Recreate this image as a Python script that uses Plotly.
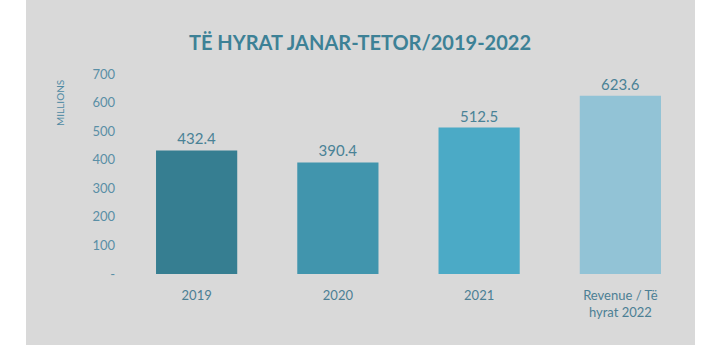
import plotly.graph_objects as go

categories = ["2019", "2020", "2021", "Revenue / Të<br>hyrat 2022"]
values = [432.4, 390.4, 512.5, 623.6]
labels = ["432.4", "390.4", "512.5", "623.6"]
bar_colors = ["#367E91", "#4195AD", "#4BAAC6", "#92C3D6"]
y_tickvals = [0, 100, 200, 300, 400, 500, 600, 700]
y_ticktext = ["-", "100", "200", "300", "400", "500", "600", "700"]

FONT = "Lato"
W, H = 720, 345
ml, mr, mt, mb = 126, 29, 74, 71
pw = W - ml - mr
ph = H - mt - mb

fig = go.Figure(go.Bar(
    x=categories, y=values,
    marker=dict(color=bar_colors, line=dict(width=0)),
    text=labels, textposition="outside", cliponaxis=False,
    textfont=dict(family=FONT, size=15, color="#4A8296"),
    hoverinfo="skip",
))

fig.update_layout(
    width=W, height=H,
    margin=dict(l=ml, r=mr, t=mt, b=mb),
    paper_bgcolor="white",
    plot_bgcolor="rgba(0,0,0,0)",
    bargap=0.425,
    showlegend=False,
    title=dict(text="<b>TË HYRAT JANAR-TETOR/2019-2022</b>", x=0.5, xanchor="center",
               y=1 - 43 / H, yanchor="middle", xref="container", yref="container",
               font=dict(family=FONT, size=20, color="#3D8196")),
    xaxis=dict(showgrid=False, showline=False, zeroline=False, ticks="",
               ticklabelstandoff=12,
               tickfont=dict(family=FONT, size=13, color="#4C7F94")),
    yaxis=dict(range=[0, 700], tickvals=y_tickvals, ticktext=y_ticktext,
               showgrid=False, showline=False, zeroline=False, ticks="",
               ticklabelstandoff=10,
               tickfont=dict(family=FONT, size=13, color="#5A8FA6")),
    shapes=[dict(type="rect", xref="paper", yref="paper", layer="below",
                 x0=(26 - ml) / pw, x1=(695 - ml) / pw,
                 y0=-(H - mt - ph) / ph - 0.01, y1=(mt + ph) / ph + 0.01,
                 fillcolor="#D9D9D9", line=dict(width=0))],
    annotations=[dict(text="MILLIONS", textangle=-90, xref="paper", yref="paper",
                      x=(60 - ml) / pw, y=(274 - 78) / ph, xanchor="center", yanchor="top",
                      showarrow=False, font=dict(family=FONT, size=10, color="#4F8AA3"))],
)

fig.write_html("out.html", config={"displayModeBar": False})
